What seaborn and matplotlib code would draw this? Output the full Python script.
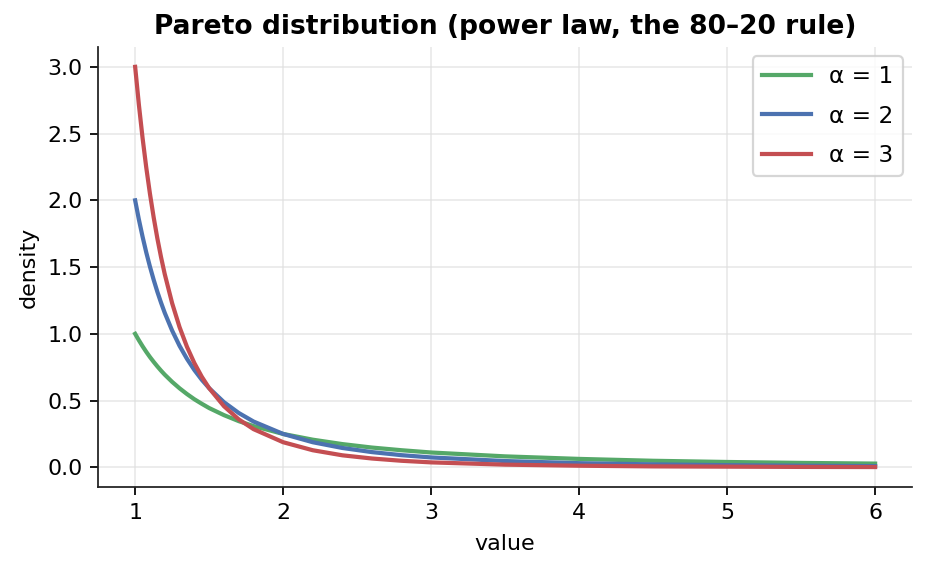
import matplotlib
matplotlib.use("Agg")
import matplotlib.pyplot as plt
import pandas as pd
import seaborn as sns

# values
x_vals = [1.0, 1.025, 1.05, 1.075, 1.1, 1.125, 1.15, 1.175, 1.2, 1.25, 1.3, 1.35, 1.4, 1.45,
          1.5, 1.6, 1.7, 1.8, 2.0, 2.2, 2.4, 2.6, 2.8, 3.0, 3.5, 4.0, 4.5, 5.0, 5.5, 6.0]
alpha1 = [1.000, 0.952, 0.907, 0.865, 0.826, 0.790, 0.756, 0.724, 0.694, 0.640, 0.592, 0.549,
          0.510, 0.476, 0.444, 0.391, 0.346, 0.309, 0.250, 0.207, 0.174, 0.148, 0.128, 0.111,
          0.082, 0.063, 0.049, 0.040, 0.033, 0.028]
alpha2 = [2.000, 1.857, 1.728, 1.610, 1.503, 1.405, 1.315, 1.233, 1.157, 1.024, 0.910, 0.813,
          0.729, 0.656, 0.593, 0.488, 0.407, 0.343, 0.250, 0.188, 0.145, 0.114, 0.091, 0.074,
          0.047, 0.031, 0.022, 0.016, 0.012, 0.009]
alpha3 = [3.000, 2.718, 2.468, 2.246, 2.049, 1.873, 1.715, 1.574, 1.447, 1.229, 1.050, 0.903,
          0.781, 0.679, 0.593, 0.458, 0.359, 0.286, 0.188, 0.128, 0.090, 0.066, 0.049, 0.037,
          0.020, 0.012, 0.007, 0.005, 0.003, 0.002]
labels = ['α = 1', 'α = 2', 'α = 3']
colors = ['#55A868', '#4C72B0', '#C44E52']

frames = []
for lab, ys in zip(labels, [alpha1, alpha2, alpha3]):
    frames.append(pd.DataFrame({'value': x_vals, 'density': ys, 'series': lab}))
df = pd.concat(frames, ignore_index=True)

plt.rcParams['font.family'] = ['DejaVu Sans']
plt.rcParams['axes.edgecolor'] = '#222222'

fig, ax = plt.subplots(figsize=(926 / 159, 571 / 159), dpi=159)
sns.lineplot(data=df, x='value', y='density', hue='series', palette=colors,
             linewidth=1.9, ax=ax)
ax.grid(True, color='#dddddd', alpha=0.6, linewidth=0.8)
ax.set_axisbelow(True)
sns.despine(ax=ax)
ax.set_xticks([1, 2, 3, 4, 5, 6])
ax.set_yticks([0.0, 0.5, 1.0, 1.5, 2.0, 2.5, 3.0])
ax.set_xlabel('value', labelpad=5)
ax.set_ylabel('density')
ax.set_title('Pareto distribution (power law, the 80–20 rule)', fontweight='bold')
ax.legend(title=None, loc='upper right', labelspacing=0.7, borderaxespad=0.4,
          fontsize=10.5, handlelength=2.1)
fig.subplots_adjust(left=0.106, right=0.985, top=0.918, bottom=0.147)
fig.savefig('out.png')
